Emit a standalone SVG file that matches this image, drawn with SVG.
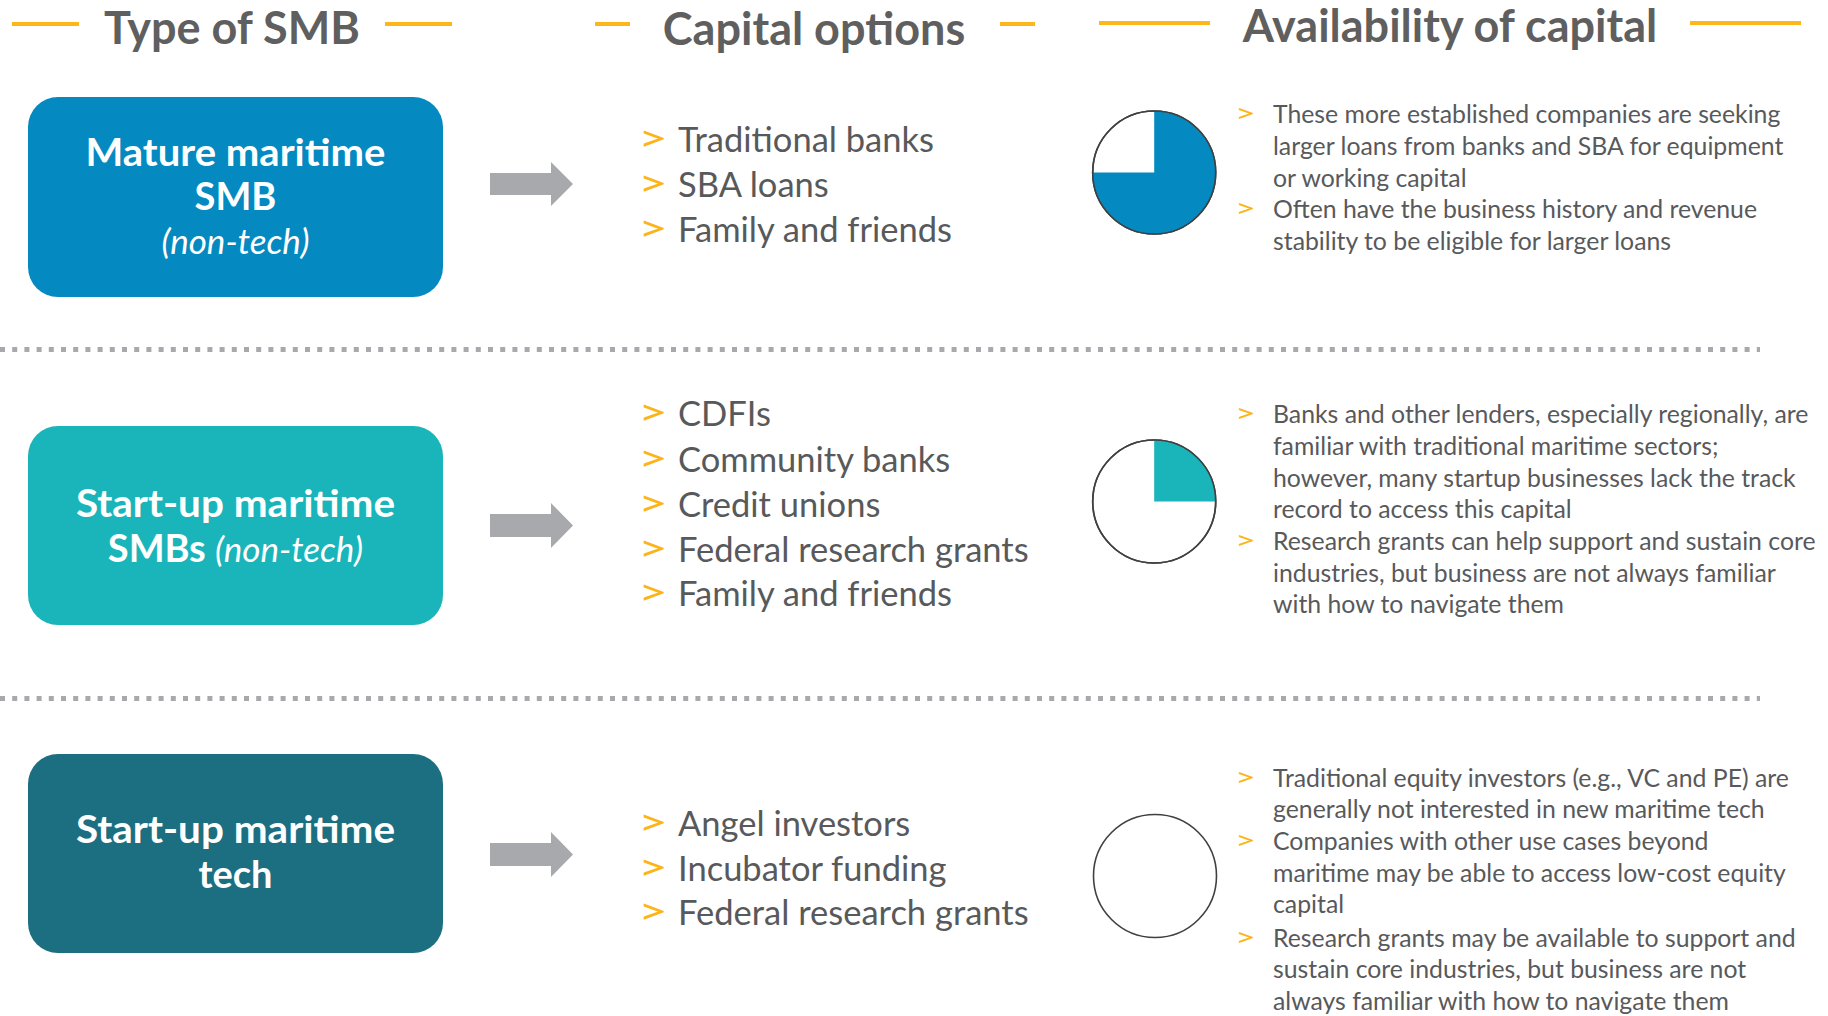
<svg xmlns="http://www.w3.org/2000/svg" width="1828" height="1016" viewBox="0 0 1828 1016">
<defs>
<style>
.hdr{font-family:Lato,"Open Sans","Liberation Sans",sans-serif;font-weight:bold;font-size:45px;fill:#5f5f5f;text-anchor:middle}
.hl{stroke:#FDB71A;stroke-width:4}
.bt{font-family:Lato,"Open Sans","Liberation Sans",sans-serif;font-weight:bold;font-size:38px;fill:#ffffff;text-anchor:middle}
.it{font-weight:normal;font-style:italic;font-size:35px}
.arrow{fill:#A7A9AC}
.opt{font-family:Lato,"Open Sans","Liberation Sans",sans-serif;font-size:34.5px;fill:#58595B}
.ob{font-family:Lato,"Open Sans","Liberation Sans",sans-serif;font-size:36px;fill:#FDB515}
.desc{font-family:Lato,"Open Sans","Liberation Sans",sans-serif;font-size:24.8px;fill:#58595B}
.db{font-family:Lato,"Open Sans","Liberation Sans",sans-serif;font-size:25px;fill:#FDB515}
.dot{stroke:#A7A9AC;stroke-width:5;stroke-dasharray:5 7.2}
.pie{fill:#ffffff;stroke:#404040;stroke-width:1.6}
</style>
</defs>
<rect width="1828" height="1016" fill="#ffffff"/>

<g id="headers">
<line class="hl" x1="12" y1="24" x2="79" y2="24"/>
<line class="hl" x1="385" y1="24" x2="452" y2="24"/>
<text class="hdr" x="232" y="44">Type of SMB</text>
<line class="hl" x1="595" y1="24" x2="630" y2="24"/>
<line class="hl" x1="1000" y1="24" x2="1035" y2="24"/>
<text class="hdr" x="814" y="45">Capital options</text>
<line class="hl" x1="1099" y1="23" x2="1210" y2="23"/>
<line class="hl" x1="1690" y1="23" x2="1801" y2="23"/>
<text class="hdr" x="1450" y="42">Availability of capital</text>
</g>

<g id="separators">
<line class="dot" x1="0" y1="349.5" x2="1760" y2="349.5"/>
<line class="dot" x1="0" y1="698.5" x2="1760" y2="698.5"/>
</g>

<g id="node-mature">
<rect x="28" y="97" width="415" height="200" rx="30" ry="30" fill="#0489C1"/>
<text class="bt" x="235.5" y="166" textLength="300" lengthAdjust="spacingAndGlyphs">Mature maritime</text>
<text class="bt" x="235.5" y="210">SMB</text>
<text class="bt it" x="235.5" y="254">(non-tech)</text>
</g>

<g id="node-startup">
<rect x="28" y="426" width="415" height="199" rx="30" ry="30" fill="#1AB5BA"/>
<text class="bt" x="235.5" y="517" textLength="319" lengthAdjust="spacingAndGlyphs">Start-up maritime</text>
<text class="bt" x="235.5" y="562">SMBs <tspan class="it">(non-tech)</tspan></text>
</g>

<g id="node-tech">
<rect x="28" y="754" width="415" height="199" rx="30" ry="30" fill="#1C6F81"/>
<text class="bt" x="235.5" y="843" textLength="319" lengthAdjust="spacingAndGlyphs">Start-up maritime</text>
<text class="bt" x="235.5" y="888">tech</text>
</g>

<g id="connectors">
<polygon class="arrow" points="490,173 551,173 551,162 573,184 551,206 551,195 490,195"/>
<polygon class="arrow" points="490,514 551,514 551,503 573,525.5 551,548 551,537 490,537"/>
<polygon class="arrow" points="490,843 551,843 551,832 573,854.5 551,877 551,866 490,866"/>
</g>

<g id="options-mature">
<text class="ob" x="638" y="151" textLength="30" lengthAdjust="spacingAndGlyphs">&gt;</text><text class="opt" x="678" y="152">Traditional banks</text>
<text class="ob" x="638" y="196" textLength="30" lengthAdjust="spacingAndGlyphs">&gt;</text><text class="opt" x="678" y="197">SBA loans</text>
<text class="ob" x="638" y="241" textLength="30" lengthAdjust="spacingAndGlyphs">&gt;</text><text class="opt" x="678" y="242">Family and friends</text>
</g>

<g id="options-startup">
<text class="ob" x="638" y="425" textLength="30" lengthAdjust="spacingAndGlyphs">&gt;</text><text class="opt" x="678" y="426">CDFIs</text>
<text class="ob" x="638" y="471" textLength="30" lengthAdjust="spacingAndGlyphs">&gt;</text><text class="opt" x="678" y="472">Community banks</text>
<text class="ob" x="638" y="516" textLength="30" lengthAdjust="spacingAndGlyphs">&gt;</text><text class="opt" x="678" y="517">Credit unions</text>
<text class="ob" x="638" y="561" textLength="30" lengthAdjust="spacingAndGlyphs">&gt;</text><text class="opt" x="678" y="562">Federal research grants</text>
<text class="ob" x="638" y="605" textLength="30" lengthAdjust="spacingAndGlyphs">&gt;</text><text class="opt" x="678" y="606">Family and friends</text>
</g>

<g id="options-tech">
<text class="ob" x="638" y="835" textLength="30" lengthAdjust="spacingAndGlyphs">&gt;</text><text class="opt" x="678" y="836">Angel investors</text>
<text class="ob" x="638" y="880" textLength="30" lengthAdjust="spacingAndGlyphs">&gt;</text><text class="opt" x="678" y="881">Incubator funding</text>
<text class="ob" x="638" y="924" textLength="30" lengthAdjust="spacingAndGlyphs">&gt;</text><text class="opt" x="678" y="925">Federal research grants</text>
</g>

<g id="pie-mature">
<circle class="pie" cx="1154.2" cy="172.5" r="61.5"/>
<path d="M1154.2,172.5 L1154.2,111 A61.5,61.5 0 1 1 1092.7,172.5 Z" fill="#0489C1"/>
<circle cx="1154.2" cy="172.5" r="61.5" fill="none" stroke="#404040" stroke-width="1.6"/>
</g>
<g id="pie-startup">
<circle class="pie" cx="1154.2" cy="501.5" r="61.5"/>
<path d="M1154.2,501.5 L1154.2,440 A61.5,61.5 0 0 1 1215.7,501.5 Z" fill="#1AB5BA"/>
<circle cx="1154.2" cy="501.5" r="61.5" fill="none" stroke="#404040" stroke-width="1.6"/>
</g>
<g id="pie-tech">
<circle class="pie" cx="1155" cy="876" r="61.5"/>
</g>

<g id="desc-mature">
<text class="db" x="1235" y="122" textLength="21" lengthAdjust="spacingAndGlyphs">&gt;</text>
<text class="desc" x="1273" y="123">These more established companies are seeking</text>
<text class="desc" x="1273" y="155">larger loans from banks and SBA for equipment</text>
<text class="desc" x="1273" y="187">or working capital</text>
<text class="db" x="1235" y="217" textLength="21" lengthAdjust="spacingAndGlyphs">&gt;</text>
<text class="desc" x="1273" y="218">Often have the business history and revenue</text>
<text class="desc" x="1273" y="250">stability to be eligible for larger loans</text>
</g>

<g id="desc-startup">
<text class="db" x="1235" y="422" textLength="21" lengthAdjust="spacingAndGlyphs">&gt;</text>
<text class="desc" x="1273" y="423">Banks and other lenders, especially regionally, are</text>
<text class="desc" x="1273" y="455">familiar with traditional maritime sectors;</text>
<text class="desc" x="1273" y="487">however, many startup businesses lack the track</text>
<text class="desc" x="1273" y="518">record to access this capital</text>
<text class="db" x="1235" y="549" textLength="21" lengthAdjust="spacingAndGlyphs">&gt;</text>
<text class="desc" x="1273" y="550">Research grants can help support and sustain core</text>
<text class="desc" x="1273" y="582">industries, but business are not always familiar</text>
<text class="desc" x="1273" y="613">with how to navigate them</text>
</g>

<g id="desc-tech">
<text class="db" x="1235" y="786" textLength="21" lengthAdjust="spacingAndGlyphs">&gt;</text>
<text class="desc" x="1273" y="787">Traditional equity investors (e.g., VC and PE) are</text>
<text class="desc" x="1273" y="818">generally not interested in new maritime tech</text>
<text class="db" x="1235" y="849" textLength="21" lengthAdjust="spacingAndGlyphs">&gt;</text>
<text class="desc" x="1273" y="850">Companies with other use cases beyond</text>
<text class="desc" x="1273" y="882">maritime may be able to access low-cost equity</text>
<text class="desc" x="1273" y="913">capital</text>
<text class="db" x="1235" y="946" textLength="21" lengthAdjust="spacingAndGlyphs">&gt;</text>
<text class="desc" x="1273" y="947">Research grants may be available to support and</text>
<text class="desc" x="1273" y="978">sustain core industries, but business are not</text>
<text class="desc" x="1273" y="1010">always familiar with how to navigate them</text>
</g>
</svg>
